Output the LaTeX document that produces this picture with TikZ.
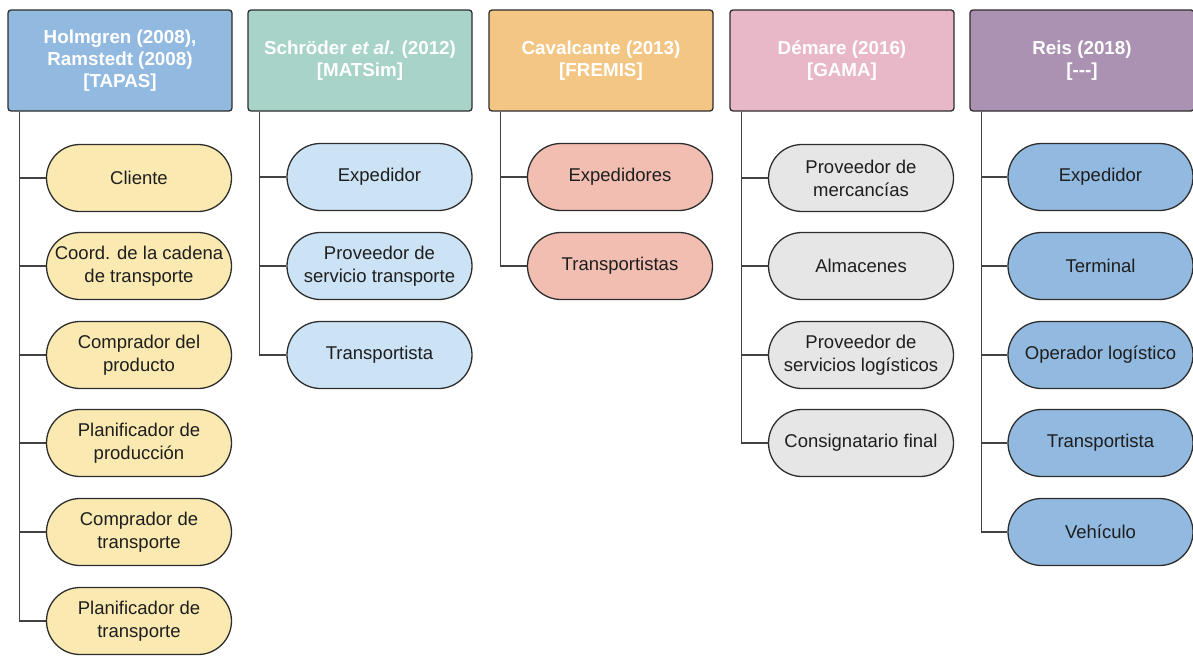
\documentclass[tikz,border=0pt]{standalone}
\usepackage{fontspec}
\setmainfont{Liberation Sans}
\begin{document}
\definecolor{hdA}{RGB}{146,185,224}
\definecolor{hdB}{RGB}{168,211,200}
\definecolor{hdC}{RGB}{244,198,132}
\definecolor{hdD}{RGB}{232,184,200}
\definecolor{hdE}{RGB}{172,146,178}
\definecolor{flA}{RGB}{250,233,176}
\definecolor{flB}{RGB}{204,227,245}
\definecolor{flC}{RGB}{242,190,178}
\definecolor{flD}{RGB}{230,230,230}
\definecolor{flE}{RGB}{146,185,224}
\definecolor{edge}{RGB}{45,45,45}
\definecolor{ink}{RGB}{30,30,30}
\begin{tikzpicture}[x=1pt,y=-1pt,
  header/.style={draw=edge, line width=1.3pt, rounded corners=3pt,
    minimum width=224pt, minimum height=101pt, inner sep=2pt,
    text=white, align=center, font=\fontsize{18.8}{22}\selectfont\bfseries},
  role/.style={draw=edge, line width=1.3pt, rounded corners=33.5pt,
    minimum width=185pt, minimum height=67pt, inner sep=2pt,
    text=ink, align=center, font=\fontsize{18.5}{23}\selectfont},
  link/.style={draw=edge!90, line width=1.3pt}]
\useasboundingbox (0,0) rectangle (1193,656);

% column headers
\node[header, fill=hdA] (h1) at (120,60.5) {Holmgren (2008),\\Ramstedt (2008)\\{}[TAPAS]};
\node[header, fill=hdB] (h2) at (360,60.5) {Schröder \textit{et al}. (2012)\\{}[MATSim]};
\node[header, fill=hdC] (h3) at (601,60.5) {Cavalcante (2013)\\{}[FREMIS]};
\node[header, fill=hdD] (h4) at (842,60.5) {Démare (2016)\\{}[GAMA]};
\node[header, fill=hdE] (h5) at (1082,60.5) {Reis (2018)\\{}[{-}{-}{-}]};

% TAPAS agents
\node[role, fill=flA] (a1) at (139,178) {Cliente};
\node[role, fill=flA] (a2) at (139,266) {Coord. de la cadena\\de transporte};
\node[role, fill=flA] (a3) at (139,355) {Comprador del\\producto};
\node[role, fill=flA] (a4) at (139,443) {Planificador de\\producción};
\node[role, fill=flA] (a5) at (139,532) {Comprador de\\transporte};
\node[role, fill=flA] (a6) at (139,621) {Planificador de\\transporte};

% MATSim agents
\node[role, fill=flB] (b1) at (379.5,177) {Expedidor};
\node[role, fill=flB] (b2) at (379.5,266) {Proveedor de\\servicio transporte};
\node[role, fill=flB] (b3) at (379.5,355) {Transportista};

% FREMIS agents
\node[role, fill=flC] (c1) at (620,177) {Expedidores};
\node[role, fill=flC] (c2) at (620,266) {Transportistas};

% GAMA agents
\node[role, fill=flD] (d1) at (861,178) {Proveedor de\\mercancías};
\node[role, fill=flD] (d2) at (861,266) {Almacenes};
\node[role, fill=flD] (d3) at (861,355) {Proveedor de\\servicios logísticos};
\node[role, fill=flD] (d4) at (861,443) {Consignatario final};

% Reis agents
\node[role, fill=flE] (e1) at (1100.5,177) {Expedidor};
\node[role, fill=flE] (e2) at (1100.5,266) {Terminal};
\node[role, fill=flE] (e3) at (1100.5,355) {Operador logístico};
\node[role, fill=flE] (e4) at (1100.5,443) {Transportista};
\node[role, fill=flE] (e5) at (1100.5,532) {Vehículo};

% tree connectors: trunk from each header, branch to each agent
\foreach \h/\list in {h1/{a1,a2,a3,a4,a5,a6}, h2/{b1,b2,b3}, h3/{c1,c2},
                      h4/{d1,d2,d3,d4}, h5/{e1,e2,e3,e4,e5}}{
  \foreach \n in \list {
    \draw[link] ([xshift=12pt]\h.south west) |- (\n.west);
  }
}
\end{tikzpicture}
\end{document}
